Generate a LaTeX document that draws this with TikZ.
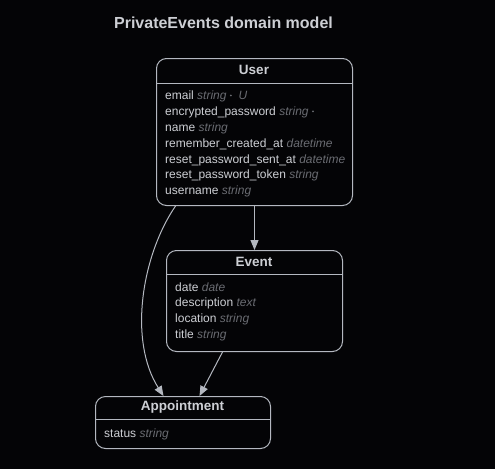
\documentclass[tikz,border=0pt]{standalone}
\usepackage{fontspec}
\setmainfont{Liberation Sans}
\usetikzlibrary{arrows.meta}
\definecolor{bg}{HTML}{040406}
\definecolor{fg}{HTML}{CDCFD4}
\definecolor{edge}{HTML}{B4B8C0}
\definecolor{typ}{HTML}{6A6C72}
\tikzset{
  x=1pt,y=-1pt,
  ent/.style={draw=edge,line width=1pt,rounded corners=10pt,anchor=north west,inner sep=0pt},
  hdr/.style={text=fg,font=\fontsize{13.5}{14}\selectfont\bfseries,anchor=center},
  row/.style={text=fg,font=\fontsize{12}{12}\selectfont,anchor=base west,inner sep=0pt},
  arr/.style={draw=edge,line width=1pt,-{Triangle[length=10pt,width=8pt]}},
}
\newcommand{\ty}[1]{\textcolor{typ}{\itshape #1}}
\newcommand{\dotm}{\tikz[baseline=0pt]\fill[typ] (0pt,3.6pt) circle (1pt);}
\begin{document}
\begin{tikzpicture}
\fill[bg] (0,0) rectangle (495,469);
\useasboundingbox (0,0) rectangle (495,469);
\node[text=fg,font=\fontsize{16}{16}\selectfont\bfseries] (title) at (223.5,23) {PrivateEvents domain model};
% User
\node[ent,minimum width=196pt,minimum height=147pt] (user) at (156,58) {};
\draw[edge,line width=1pt] (156,83) -- (352,83);
\node[hdr] (userh) at (254,69.5) {User};
\node[row] (u1) at (165,99) {email \ty{string} \dotm\ \ \ty{U}};
\node[row] (u2) at (165,115) {encrypted\_password \ty{string} \dotm};
\node[row] (u3) at (165,131) {name \ty{string}};
\node[row] (u4) at (165,147) {remember\_created\_at \ty{datetime}};
\node[row] (u5) at (165,163) {reset\_password\_sent\_at \ty{datetime}};
\node[row] (u6) at (165,178) {reset\_password\_token \ty{string}};
\node[row] (u7) at (165,194) {username \ty{string}};
% Event
\node[ent,minimum width=176pt,minimum height=101pt] (event) at (166,250) {};
\draw[edge,line width=1pt] (166,274) -- (342,274);
\node[hdr] (eventh) at (254,262) {Event};
\node[row] (e1) at (175,291) {date \ty{date}};
\node[row] (e2) at (175,306) {description \ty{text}};
\node[row] (e3) at (175,322) {location \ty{string}};
\node[row] (e4) at (175,338) {title \ty{string}};
% Appointment
\node[ent,minimum width=175pt,minimum height=52pt] (appt) at (95,396) {};
\draw[edge,line width=1pt] (95,419) -- (270,419);
\node[hdr] (appth) at (182.5,407.5) {Appointment};
\node[row] (a1) at (104,437) {status \ty{string}};
% edges
\draw[arr] (user.south) -- (event.north);
\draw[arr] ([xshift=-79pt]user.south) .. controls (142,255) and (128,340) .. ([xshift=-19.5pt]appt.north);
\draw[arr] ([xshift=-32pt]event.south) -- ([xshift=16.5pt]appt.north);
\end{tikzpicture}
\end{document}
